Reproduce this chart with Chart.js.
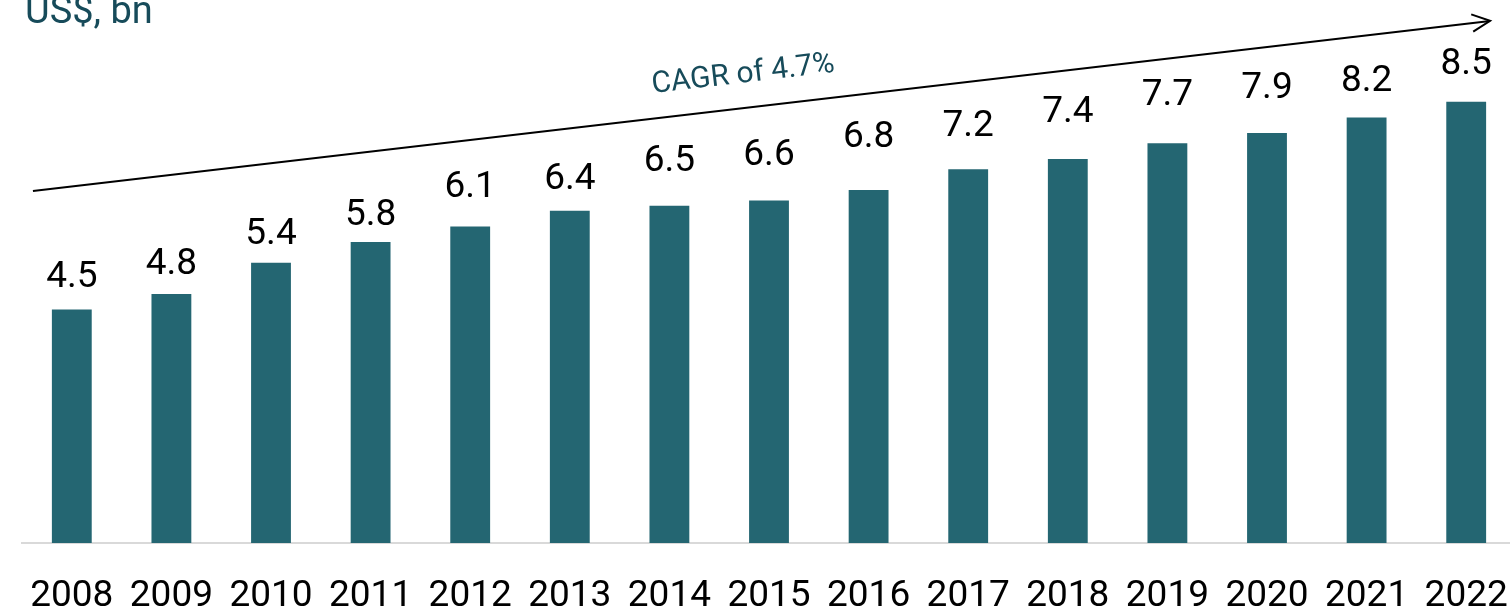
<!DOCTYPE html>
<html>
<head>
<meta charset="utf-8">
<script src="https://cdn.jsdelivr.net/npm/chart.js@4/dist/chart.umd.min.js"></script>
<style>
  html, body { margin: 0; padding: 0; background: #fff; overflow: hidden; }
  #wrap { position: relative; width: 1516px; height: 620px; }
</style>
</head>
<body>
<div id="wrap"><canvas id="chart"></canvas></div>
<script>
var years = ['2008', '2009', '2010', '2011', '2012', '2013', '2014', '2015',
             '2016', '2017', '2018', '2019', '2020', '2021', '2022'];
var values = [4.5, 4.8, 5.4, 5.8, 6.1, 6.4, 6.5, 6.6, 6.8, 7.2, 7.4, 7.7, 7.9, 8.2, 8.5];
var unitLabel = 'US$, bn';
var cagrLabel = 'CAGR of 4.7%';
// trend arrow, in data units (category index, value)
var arrowFrom = [-0.39, 6.78];
var arrowTo = [14.24, 10.06];

// the value labels were hand placed in the original: gap (px) above each bar
var labelLift = [22, 20, 19, 17, 29, 22, 35, 35, 43, 33, 37, 38, 35, 26, 28];

var barColor = '#246672';
var darkTeal = '#174b5a';

// value labels above bars, the unit title and the CAGR arrow
var extras = {
    id: 'extras',
    afterDatasetsDraw: function (chart) {
        var ctx = chart.ctx;
        var meta = chart.getDatasetMeta(0);
        var x = chart.scales.x, y = chart.scales.y;

        ctx.save();
        ctx.font = '37px Roboto';
        ctx.fillStyle = '#000';
        ctx.textAlign = 'center';
        ctx.textBaseline = 'alphabetic';
        meta.data.forEach(function (bar, i) {
            ctx.fillText(values[i].toFixed(1), bar.x, bar.y - labelLift[i]);
        });

        ctx.font = '38px Roboto';
        ctx.fillStyle = darkTeal;
        ctx.textAlign = 'left';
        ctx.fillText(unitLabel, 25, 23);

        var x1 = x.getPixelForValue(arrowFrom[0]), y1 = y.getPixelForValue(arrowFrom[1]);
        var x2 = x.getPixelForValue(arrowTo[0]), y2 = y.getPixelForValue(arrowTo[1]);
        var ang = Math.atan2(y2 - y1, x2 - x1);
        ctx.strokeStyle = '#000';
        ctx.lineWidth = 2;
        ctx.beginPath();
        ctx.moveTo(x1, y1);
        ctx.lineTo(x2, y2);
        ctx.stroke();
        var head = 20;
        ctx.beginPath();
        ctx.moveTo(x2 - head * Math.cos(ang - 0.45), y2 - head * Math.sin(ang - 0.45));
        ctx.lineTo(x2, y2);
        ctx.lineTo(x2 - head * Math.cos(ang + 0.45), y2 - head * Math.sin(ang + 0.45));
        ctx.stroke();

        var t = 0.49;
        var mx = x1 + (x2 - x1) * t, my = y1 + (y2 - y1) * t;
        ctx.translate(mx + 33 * Math.sin(ang), my - 33 * Math.cos(ang));
        ctx.rotate(ang);
        ctx.font = '30px Roboto';
        ctx.fillStyle = darkTeal;
        ctx.textAlign = 'center';
        ctx.textBaseline = 'middle';
        ctx.fillText(cagrLabel, 0, 0);
        ctx.restore();
    }
};

new Chart(document.getElementById('chart'), {
    type: 'bar',
    data: {
        labels: years,
        datasets: [{
            data: values,
            backgroundColor: barColor,
            categoryPercentage: 1,
            barPercentage: 0.4
        }]
    },
    options: {
        responsive: true,
        maintainAspectRatio: false,
        animation: false,
        layout: { padding: { left: 22, top: 24, right: 0, bottom: 0 } },
        plugins: { legend: { display: false }, tooltip: { enabled: false } },
        scales: {
            x: {
                grid: { display: false, drawTicks: false },
                border: { display: true, color: '#d9d9d9', width: 2 },
                ticks: {
                    color: '#000',
                    font: { family: 'Roboto', size: 37 },
                    padding: 32,
                    maxRotation: 0,
                    autoSkip: false
                },
                afterFit: function (scale) {
                    scale.height = 77;
                    scale.paddingLeft = 0;
                    scale.paddingRight = 0;
                }
            },
            y: {
                display: false,
                min: 0,
                max: 10
            }
        }
    },
    plugins: [extras]
});
</script>
</body>
</html>
